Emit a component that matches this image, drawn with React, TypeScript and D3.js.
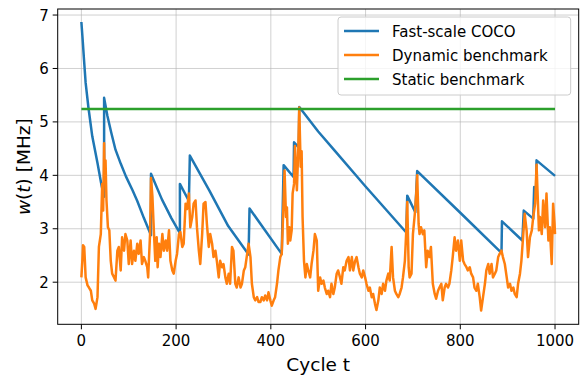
import React from 'react';
import * as d3 from 'd3';

// Fast-scale COCO (sawtooth)
const cocoT = [0, 3, 5.5, 9, 15, 23, 34, 43, 48,
  48, 55, 63, 72, 83, 94, 108, 118, 132, 147,
  147, 170, 190, 208,
  208, 227,
  229, 270, 310, 353,
  355, 423,
  427, 448,
  449, 459,
  460, 500, 533, 600, 686,
  688, 705,
  709, 800, 887,
  888, 931,
  934, 954,
  956, 960,
  961, 1000];
const cocoV = [6.87, 6.5, 6.17, 5.73, 5.26, 4.73, 4.23, 3.79, 3.6,
  5.45, 5.11, 4.8, 4.48, 4.22, 3.98, 3.72, 3.52, 3.2, 2.88,
  4.03, 3.55, 3.2, 2.92,
  3.84, 3.52,
  4.37, 3.72, 3.05, 2.52,
  3.38, 2.53,
  4.19, 3.97,
  4.62, 4.52,
  5.28, 4.82, 4.48, 3.79, 2.93,
  3.62, 3.31,
  4.08, 3.3, 2.55,
  3.14, 2.78,
  3.34, 3.19,
  3.78, 3.75,
  4.28, 3.99];

// Dynamic benchmark
const dynT = [0, 2, 3.5, 6, 9, 13, 16, 20, 23, 27, 30, 34, 37, 41, 44, 46, 48, 49, 51, 53, 56, 59,
  62, 65, 69, 72, 76, 79, 83, 86, 90, 93, 97, 100, 104, 107, 111, 114, 118, 121, 125, 128,
  132, 135, 139, 141, 145, 147, 150, 153, 156, 159, 161, 164, 167, 171, 174, 178, 181, 185,
  188, 192, 195, 199, 202, 206, 209, 213, 216, 220, 223, 227, 230, 234, 237, 241, 244, 248,
  251, 255, 258, 262, 265, 269, 272, 276, 279, 283, 286, 290, 293, 297, 300, 304, 307, 311,
  314, 318, 321, 325, 328, 332, 336, 339, 343, 346, 350, 353, 357, 360, 364, 367, 371, 374,
  378, 381, 385, 388, 392, 395, 399, 402, 406, 409, 413, 416, 420, 423, 427, 429, 432, 434,
  436, 439, 441, 444, 446, 449, 451, 455, 458, 460, 463, 465, 467, 470, 473, 476, 479, 483,
  486, 490, 493, 497, 500, 504, 507, 511, 514, 518, 521, 525, 528, 532, 535, 539, 542, 546,
  549, 553, 556, 560, 564, 567, 571, 574, 578, 581, 585, 588, 592, 595, 599, 602, 606, 609,
  613, 616, 620, 623, 627, 630, 634, 637, 641, 644, 648, 651, 655, 658, 662, 665, 669, 672,
  676, 679, 683, 686, 688, 691, 693, 697, 700, 704, 707, 709, 712, 714, 717, 721, 724, 728,
  731, 735, 738, 742, 746, 749, 753, 756, 760, 763, 767, 770, 774, 777, 781, 784, 788, 791,
  795, 799, 802, 806, 809, 813, 816, 820, 823, 827, 830, 834, 837, 841, 844, 848, 852, 855,
  859, 862, 866, 869, 873, 876, 880, 883, 887, 890, 894, 898, 901, 905, 908, 912, 915, 919,
  922, 926, 929, 933, 936, 940, 943, 947, 951, 954, 958, 961, 963, 966, 968, 972, 975, 979,
  982, 986, 989, 993, 996, 999, 1000];
const dynV = [2.09, 2.4, 2.69, 2.66, 2.09, 1.94, 1.9, 1.84, 1.66, 1.6, 1.5, 1.72, 2.66, 2.9, 3.84, 3.34, 4.6, 4.1, 4.28, 3.53, 3.03, 2.97,
  2.4, 2.16, 2.09, 2.03, 2.59, 2.66, 2.22, 2.84, 2.59, 2.9, 2.78, 2.34, 2.78, 2.34, 2.59, 2.4, 2.72, 2.53, 2.78, 2.34,
  2.47, 2.4, 2.28, 2.09, 2.9, 3.95, 3.6, 2.97, 2.4, 2.84, 2.28, 2.72, 2.47, 2.9, 2.59, 2.78, 2.59, 2.97,
  2.4, 2.22, 2.16, 2.4, 2.53, 2.9, 2.94, 2.66, 2.72, 3.47, 3.37, 3.66, 3.03, 3.22, 3.47, 3.53, 3.03, 2.59,
  2.34, 2.9, 3.47, 3.5, 3.09, 2.66, 2.9, 2.72, 2.47, 2.59, 2.4, 2.09, 2.4, 2.28, 2.34, 2.09, 1.97, 2.16,
  1.97, 2.66, 2.59, 1.97, 1.9, 2.09, 1.9, 1.97, 2.22, 2.28, 2.53, 2.72, 2.47, 1.97, 1.72, 1.66, 1.72, 1.63,
  1.63, 1.72, 1.66, 1.75, 1.66, 1.81, 1.66, 1.56, 1.66, 1.72, 1.97, 2.22, 2.47, 2.53, 3.53, 4.09, 3.22, 3.4,
  2.72, 3.03, 2.78, 2.97, 3.66, 3.84, 4.55, 3.72, 4.5, 5.27, 4.16, 4.45, 3.22, 2.4, 2.09, 2.34, 2.22, 2.09,
  2.34, 2.59, 2.9, 2.78, 1.84, 2.09, 1.97, 2.03, 1.9, 1.78, 1.84, 1.72, 1.97, 1.78, 1.9, 2.16, 2.22, 2.09,
  1.97, 2.28, 2.22, 2.4, 2.47, 2.22, 2.47, 2.22, 2.4, 2.47, 2.28, 2.16, 2.09, 2.22, 2.09, 1.97, 1.84, 1.9,
  1.72, 1.78, 1.59, 1.48, 1.66, 1.9, 1.78, 1.97, 1.84, 2.03, 2.16, 2.03, 2.66, 2.09, 1.84, 1.78, 1.72, 1.78,
  1.9, 2.09, 2.4, 2.97, 3.5, 2.28, 2.09, 2.16, 2.9, 3.28, 3.66, 4.0, 3.09, 2.9, 3.03, 2.9, 2.97, 2.28,
  2.59, 2.47, 2.66, 1.97, 1.78, 1.69, 1.84, 1.9, 1.97, 1.66, 1.9, 1.97, 1.9, 1.97, 2.22, 2.47, 2.84, 2.59,
  2.78, 2.4, 2.78, 2.4, 2.34, 2.28, 2.22, 2.28, 2.16, 2.09, 1.9, 1.84, 1.97, 1.72, 1.47, 1.72, 1.97, 2.22,
  2.34, 2.16, 2.34, 2.09, 2.16, 2.22, 2.47, 2.53, 2.59, 2.47, 2.34, 2.09, 1.9, 1.97, 1.84, 1.9, 1.78, 1.72,
  1.97, 2.16, 2.4, 2.9, 3.28, 2.97, 2.47, 2.84, 2.97, 3.22, 3.47, 4.2, 3.72, 2.97, 3.22, 2.9, 3.53, 3.03,
  3.66, 2.78, 3.03, 2.34, 3.47, 3.09, 2.9];

const staticT = [0, 1000];
const staticV = [5.24, 5.24];

const cycleTicks = [0, 200, 400, 600, 800, 1000];
const wTicks = [2, 3, 4, 5, 6, 7];
const legendLabels = ['Fast-scale COCO', 'Dynamic benchmark', 'Static benchmark'];
const colors = ['#1f77b4', '#ff7f0e', '#2ca02c'];

const W = 583;
const H = 377;
const left = 57.7, right = 578.7, top = 9, bottom = 324.3;
const font = 'DejaVu Sans, sans-serif';

const App = () => {
  const x = d3.scaleLinear().domain([-50, 1050]).range([left, right]);
  const y = d3.scaleLinear().domain([1.212, 7.113]).range([bottom, top]);

  // one path per series, built from the t and value arrays
  const path = (ts: number[], vs: number[]) =>
    d3.line<number>()
      .x(d => x(d))
      .y((_, i) => y(vs[i]))(ts) || '';

  const series = [
    { t: cocoT, v: cocoV },
    { t: dynT, v: dynV },
    { t: staticT, v: staticV },
  ];

  return (
    <svg width={W} height={H} style={{ position: 'absolute', left: 0, top: 0 }} fontFamily={font}>
      <rect width={W} height={H} fill="white" />
      <defs>
        <clipPath id="plot">
          <rect x={left} y={top} width={right - left} height={bottom - top} />
        </clipPath>
      </defs>

      {/* grid */}
      <g stroke="#b0b0b0" strokeOpacity={0.6} strokeWidth={1}>
        {cycleTicks.map(t => (
          <line key={'gx' + t} x1={x(t)} x2={x(t)} y1={top} y2={bottom} />
        ))}
        {wTicks.map(v => (
          <line key={'gy' + v} x1={left} x2={right} y1={y(v)} y2={y(v)} />
        ))}
      </g>

      {/* lines */}
      <g clipPath="url(#plot)" fill="none" strokeWidth={2.5} strokeLinejoin="round">
        {series.map((s, i) => (
          <path key={i} d={path(s.t, s.v)} stroke={colors[i]} />
        ))}
      </g>

      {/* spines */}
      <rect x={left} y={top} width={right - left} height={bottom - top} fill="none" stroke="black" strokeWidth={1} />

      {/* x axis */}
      <g fontSize={15} textAnchor="middle" fill="#000">
        {cycleTicks.map(t => (
          <g key={'xt' + t}>
            <line x1={x(t)} x2={x(t)} y1={bottom} y2={bottom + 5} stroke="black" />
            <text x={x(t)} y={bottom + 22}>{t}</text>
          </g>
        ))}
      </g>
      <text x={(left + right) / 2} y={370.5} fontSize={18.5} textAnchor="middle">Cycle t</text>

      {/* y axis */}
      <g fontSize={15} textAnchor="end">
        {wTicks.map(v => (
          <g key={'yt' + v}>
            <line x1={left - 5} x2={left} y1={y(v)} y2={y(v)} stroke="black" />
            <text x={left - 9} y={y(v) + 5.5}>{v}</text>
          </g>
        ))}
      </g>
      <text transform={`translate(29.5, ${(top + bottom) / 2}) rotate(-90)`} fontSize={18.5} textAnchor="middle">
        <tspan fontStyle="italic">w</tspan>(<tspan fontStyle="italic">t</tspan>) [MHz]
      </text>

      {/* legend */}
      <g>
        <rect x={338} y={17} width={232.7} height={78} rx={3} fill="white" fillOpacity={0.8} stroke="#cccccc" />
        {legendLabels.map((lab, i) => (
          <g key={lab}>
            <line x1={344} x2={379} y1={31 + i * 24} y2={31 + i * 24} stroke={colors[i]} strokeWidth={2.5} />
            <text x={392} y={31 + i * 24 + 5.5} fontSize={15}>{lab}</text>
          </g>
        ))}
      </g>
    </svg>
  );
};

export default App;
